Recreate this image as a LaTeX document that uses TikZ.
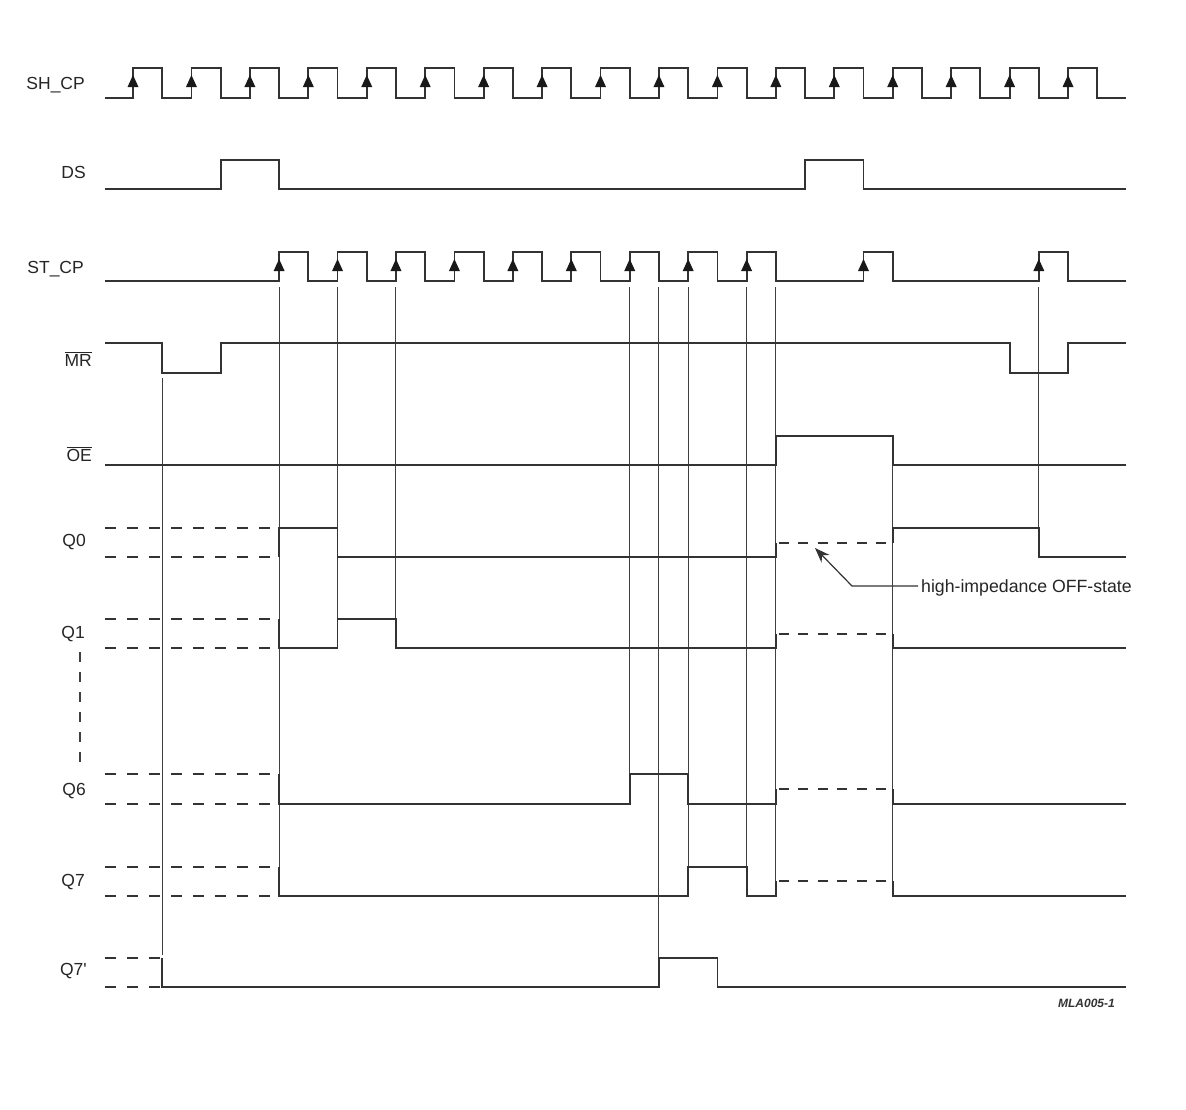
\documentclass[tikz,border=0pt]{standalone}
\usepackage{fontspec}
\setmainfont{Liberation Sans}
\usetikzlibrary{arrows.meta}
\begin{document}
\begin{tikzpicture}[x=1pt,y=-1pt,
  sig/.style={line width=1.8pt, draw=black!80, line join=miter},
  sigdash/.style={sig, dash pattern=on 11pt off 11pt},
  hiz/.style={sig, dash pattern=on 10pt off 9.5pt, dash phase=-3pt},
  guide/.style={line width=1pt, draw=black!75},
  edgearrow/.style={fill=black!90},
  lbl/.style={anchor=base east, inner sep=0pt, font=\fontsize{17.5}{20}\selectfont, text=black!85},
  callout/.style={line width=1.2pt, draw=black!80, -{Stealth[length=15pt,width=11pt]}}]
\fill[white] (0,0) rectangle (1186,1109);
\path[use as bounding box] (0,0) rectangle (1186,1109);

% labels
\node[lbl] (lSH) at (85,89) {SH\_CP};
\node[lbl] (lDS) at (86,178) {DS};
\node[lbl] (lST) at (84,273) {ST\_CP};
\node[lbl] (lMR) at (92,366) {$\overline{\hbox{MR}}$};
\node[lbl] (lOE) at (92,461) {$\overline{\hbox{OE}}$};
\node[lbl] (lQ0) at (86,546) {Q0};
\node[lbl] (lQ1) at (85,638) {Q1};
\node[lbl] (lQ6) at (86,795) {Q6};
\node[lbl] (lQ7) at (85,886) {Q7};
\node[lbl] (lQ7p) at (87,975) {Q7\textquotesingle};
\draw[line width=1.3pt, draw=black!75, dash pattern=on 10pt off 10pt] (80,652) -- (80,770);

% callout
\node[anchor=base west, inner sep=0pt, font=\fontsize{17.7}{20}\selectfont, text=black!85] (hz) at (921,592) {high-impedance OFF-state};
\coordinate (cbend) at (852,586);
\coordinate (ctip) at (815,548);
\draw[callout] ([xshift=-3pt]cbend -| hz.west) -- (cbend) -- (ctip);

\node[anchor=base east, inner sep=0pt, font=\fontsize{12}{14}\selectfont\bfseries\itshape, text=black!80] (tag) at (1115,1007) {MLA005-1};

\begin{scope}[x=29.22pt, xshift=133pt]
  % guide lines
  \foreach \k/\a/\b in {1/378/955, 5/287/867, 7/287/619, 9/287/619, 17/287/774,
                        18/287/958, 19/287/867, 21/287/867, 22/287/881, 26/466/881, 31/287/528}
    \draw[guide] (\k,\a) -- (\k,\b);

  % SH_CP
  \draw[sig] (-0.96,98) \foreach \i in {0,...,16} { -- ({2*\i},98) -- ({2*\i},68) -- ({2*\i+1},68) -- ({2*\i+1},98)} -- (34,98);
  \foreach \i in {0,...,16}
    \fill[edgearrow] ({2*\i},87) ++(-5.5pt,0) -- ++(11pt,0) -- ++(-5.5pt,12pt) -- cycle;

  % DS
  \draw[sig] (-0.96,189) -- (3,189) -- (3,160) -- (5,160) -- (5,189) -- (23,189) -- (23,160) -- (25,160) -- (25,189) -- (34,189);

  % ST_CP
  \draw[sig] (-0.96,281) \foreach \k in {5,7,9,11,13,15,17,19,21,25,31} { -- (\k,281) -- (\k,252) -- ({\k+1},252) -- ({\k+1},281)} -- (34,281);
  \foreach \k in {5,7,9,11,13,15,17,19,21,25,31}
    \fill[edgearrow] (\k,271) ++(-5.5pt,0) -- ++(11pt,0) -- ++(-5.5pt,12pt) -- cycle;

  % MR
  \draw[sig] (-0.96,343) -- (1,343) -- (1,373) -- (3,373) -- (3,343) -- (30,343) -- (30,373) -- (32,373) -- (32,343) -- (34,343);

  % OE
  \draw[sig] (-0.96,465) -- (22,465) -- (22,436) -- (26,436) -- (26,465) -- (34,465);

  % Q0
  \draw[sigdash] (-0.96,528) -- (5,528);
  \draw[sigdash] (-0.96,557) -- (5,557);
  \draw[sig] (5,557) -- (5,528) -- (7,528) -- (7,557) -- (22,557) -- (22,543);
  \draw[hiz] (22,543) -- (26,543);
  \draw[sig] (26,543) -- (26,528) -- (31,528) -- (31,557) -- (34,557);

  % Q1
  \draw[sigdash] (-0.96,619) -- (5,619);
  \draw[sigdash] (-0.96,648) -- (5,648);
  \draw[sig] (5,619) -- (5,648) -- (7,648) -- (7,619) -- (9,619) -- (9,648) -- (22,648) -- (22,634);
  \draw[hiz] (22,634) -- (26,634);
  \draw[sig] (26,634) -- (26,648) -- (34,648);

  % Q6
  \draw[sigdash] (-0.96,774) -- (5,774);
  \draw[sigdash] (-0.96,804) -- (5,804);
  \draw[sig] (5,774) -- (5,804) -- (17,804) -- (17,774) -- (19,774) -- (19,804) -- (22,804) -- (22,789);
  \draw[hiz] (22,789) -- (26,789);
  \draw[sig] (26,789) -- (26,804) -- (34,804);

  % Q7
  \draw[sigdash] (-0.96,867) -- (5,867);
  \draw[sigdash] (-0.96,896) -- (5,896);
  \draw[sig] (5,867) -- (5,896) -- (19,896) -- (19,867) -- (21,867) -- (21,896) -- (22,896) -- (22,881);
  \draw[hiz] (22,881) -- (26,881);
  \draw[sig] (26,881) -- (26,896) -- (34,896);

  % Q7'
  \draw[sigdash] (-0.96,958) -- (1,958);
  \draw[sigdash] (-0.96,987) -- (1,987);
  \draw[sig] (1,958) -- (1,987) -- (18,987) -- (18,958) -- (20,958) -- (20,987) -- (34,987);
\end{scope}
\end{tikzpicture}
\end{document}
